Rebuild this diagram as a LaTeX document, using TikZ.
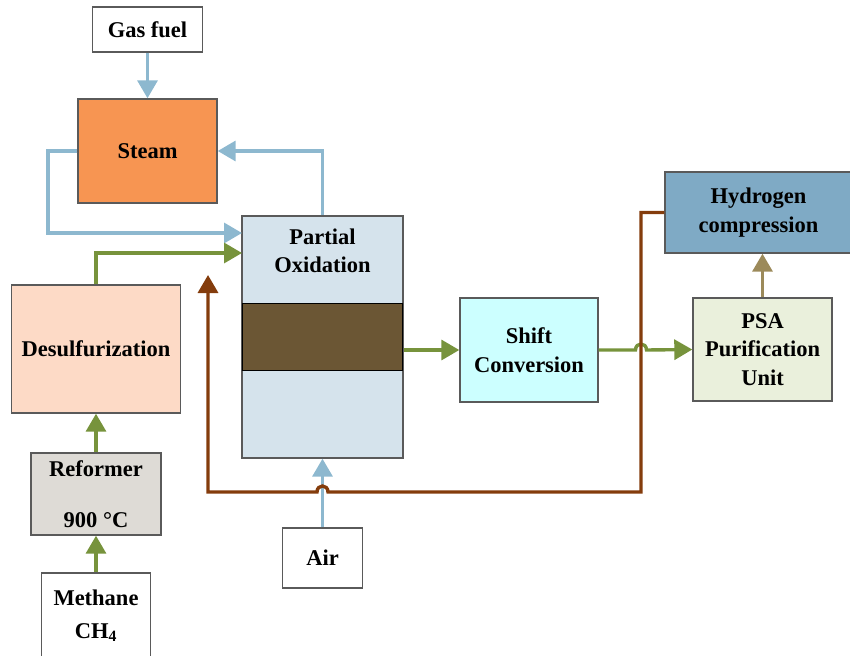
\documentclass[tikz,border=0pt]{standalone}
\usepackage{fontspec}
\setmainfont{Liberation Serif}
\usetikzlibrary{arrows.meta}
\definecolor{lblue}{HTML}{8DB8CF}
\definecolor{lgreen}{HTML}{77933C}
\definecolor{dbrown}{HTML}{843C0C}
\definecolor{ltan}{HTML}{9C8A5A}
\definecolor{steamfill}{HTML}{F79552}
\definecolor{pofill}{HTML}{D5E3EC}
\definecolor{bandfill}{HTML}{6B5634}
\definecolor{desfill}{HTML}{FDDAC6}
\definecolor{reffill}{HTML}{DEDBD6}
\definecolor{shiftfill}{HTML}{CCFFFF}
\definecolor{psafill}{HTML}{EAF0DC}
\definecolor{hfill}{HTML}{7FAAC5}
\definecolor{boxline}{HTML}{5A5A5A}
\tikzset{
  box/.style={draw=boxline, line width=1.4pt, inner sep=0pt, align=center,
    font=\fontsize{22.5}{28.5}\selectfont\bfseries},
  flow/.style={line width=3.4pt, -{Triangle[width=20pt,length=18pt]}},
}
\begin{document}
\begin{tikzpicture}[x=1pt,y=-1pt]
\useasboundingbox (0,0) rectangle (850,655);
% boxes
\node[box, fill=white, minimum width=110pt, minimum height=45pt] (gas) at (147.5,29.5) {Gas fuel};
\node[box, fill=steamfill, minimum width=139pt, minimum height=104pt] (steam) at (147.5,151) {Steam};
\node[box, fill=pofill, minimum width=161pt, minimum height=242pt] (po) at (322.5,337) {};
\node[draw=black, line width=0.8pt, fill=bandfill, minimum width=160pt, minimum height=67pt, inner sep=0pt] (band) at (322.5,336.5) {};
\node[font=\fontsize{22.5}{28.5}\selectfont\bfseries, align=center] (potext) at (322.5,251) {Partial\\Oxidation};
\draw[draw=boxline, line width=1.4pt] (po.north west) rectangle (po.south east);
\node[box, fill=desfill, minimum width=169pt, minimum height=128pt] (desulf) at (96,349) {Desulfurization};
\node[box, fill=reffill, minimum width=130pt, minimum height=82pt] (reformer) at (96,494) {Reformer\\[22pt]900 °C};
\node[box, fill=white, minimum width=109pt, minimum height=87pt] (methane) at (96,616.5) {};
\node[font=\fontsize{22.5}{28.5}\selectfont\bfseries, align=center] (methtext) at (96,616) {Methane\\[4pt]CH\textsubscript{4}};
\node[box, fill=white, minimum width=80pt, minimum height=60pt] (air) at (322.5,558) {Air};
\node[box, fill=shiftfill, minimum width=138pt, minimum height=104pt] (shift) at (529,350) {Shift\\Conversion};
\node[box, fill=psafill, minimum width=139pt, minimum height=103pt] (psa) at (762.5,349.5) {PSA\\Purification\\Unit};
\node[box, fill=hfill, minimum width=187pt, minimum height=81pt] (h2) at (758.5,212.5) {Hydrogen\\compression};
% coordinates
\coordinate (steamL) at (48,151);
\coordinate (poIn1) at (242,233);
\coordinate (poIn2) at (242,253);
\coordinate (brTop) at (641,212.5);
\coordinate (brCorner) at (641,492);
\coordinate (brHopR) at (328,492);
\coordinate (brHopL) at (317,492);
\coordinate (brLeft) at (208,492);
\coordinate (brEnd) at (208,275);
\coordinate (grHopL) at (635.5,350);
\coordinate (grHopR) at (646.5,350);
% connectors
\draw[flow, lblue] (gas.south) -- (steam.north);
\draw[flow, lblue] (steam.west) -- (steamL) |- (poIn1);
\draw[flow, lblue] (po.north) |- (steam.east);
\draw[flow, lgreen] (desulf.north) |- (poIn2);
\draw[flow, lgreen] (reformer.north) -- (desulf.south);
\draw[flow, lgreen] (methane.north) -- (reformer.south);
\draw[flow, lblue] (air.north) -- (po.south);
\draw[flow, lgreen] (po.east |- shift.west) -- (shift.west);
\draw[flow, lgreen] (shift.east) -- (grHopL) .. controls (635.5,342) and (646.5,342) .. (grHopR) -- (psa.west);
\draw[flow, ltan] (psa.north) -- (psa.north |- h2.south);
\draw[flow, dbrown, line join=miter] (h2.west) -- (brTop) -- (brCorner) -- (brHopR) .. controls (328,484) and (317,484) .. (brHopL) -- (brLeft) -- (brEnd);
\end{tikzpicture}
\end{document}
